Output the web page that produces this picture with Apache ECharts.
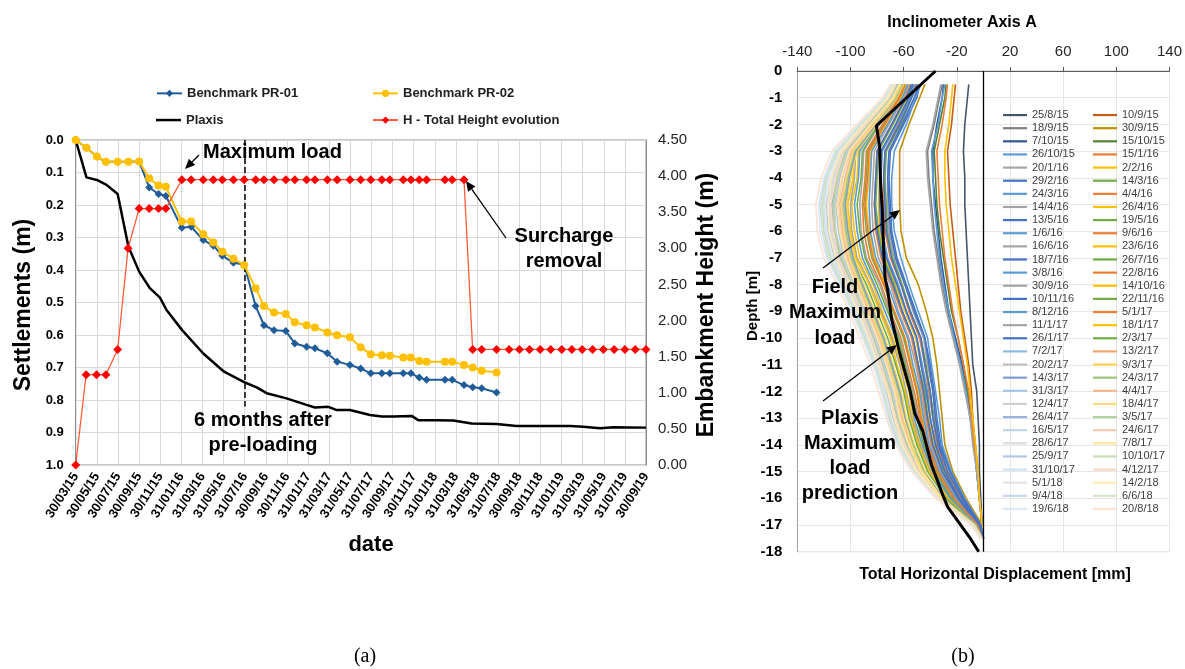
<!DOCTYPE html>
<html><head><meta charset="utf-8">
<script src="https://cdn.jsdelivr.net/npm/echarts@6.0.0/dist/echarts.min.js"></script>
<style>html,body{margin:0;padding:0;background:#fff}#c{width:1185px;height:669px}</style>
</head><body><div id="c"></div>
<script>
// ---------- Panel (a) data ----------
const dateTickLabels = ['30/03/15','30/05/15','30/07/15','30/09/15','30/11/15','31/01/16','31/03/16','31/05/16','31/07/16','30/09/16','30/11/16','31/01/17','31/03/17','31/05/17','31/07/17','30/09/17','30/11/17','31/01/18','31/03/18','31/05/18','31/07/18','30/09/18','30/11/18','31/01/19','31/03/19','31/05/19','31/07/19','30/09/19'];
const axisStart = '2015-03-30';
const axisEnd = '2019-09-30';
const sixMonthsDate = '2016-07-31';

const benchDates = ['2015-03-30','2015-04-30','2015-05-30','2015-06-25','2015-07-29','2015-08-29','2015-09-29','2015-10-28','2015-11-24','2015-12-15',
 '2016-01-30','2016-02-26','2016-04-01','2016-04-30','2016-05-26','2016-06-27','2016-07-28','2016-08-30','2016-09-23','2016-10-22','2016-11-25','2016-12-21',
 '2017-01-24','2017-02-17','2017-03-25','2017-04-22','2017-05-29','2017-06-29','2017-07-28','2017-08-29','2017-09-21','2017-10-30','2017-11-21','2017-12-15',
 '2018-01-05','2018-02-27','2018-03-20','2018-04-23','2018-05-18','2018-06-13','2018-07-26'];
const pr01 = [0,0.024,0.051,0.067,0.067,0.067,0.066,0.146,0.166,0.172,
 0.270,0.267,0.308,0.325,0.356,0.378,0.383,0.511,0.570,0.585,0.588,0.626,
 0.636,0.641,0.656,0.682,0.692,0.703,0.718,0.718,0.718,0.718,0.718,0.731,
 0.738,0.738,0.738,0.754,0.761,0.764,0.777];
const pr02 = [0,0.024,0.051,0.067,0.067,0.067,0.066,0.118,0.140,0.144,
 0.251,0.251,0.290,0.315,0.344,0.365,0.385,0.456,0.511,0.531,0.535,0.561,
 0.570,0.577,0.592,0.601,0.607,0.638,0.659,0.662,0.664,0.669,0.669,0.680,
 0.682,0.682,0.682,0.692,0.700,0.710,0.715];

const hDates = ['2015-03-30','2015-04-29','2015-05-29','2015-06-25','2015-07-29','2015-08-28','2015-09-29','2015-10-28','2015-11-24','2015-12-15',
 '2016-01-30','2016-02-26','2016-04-01','2016-04-30','2016-05-26','2016-06-27','2016-07-28','2016-08-30','2016-09-23','2016-10-22','2016-11-25','2016-12-21',
 '2017-01-24','2017-02-17','2017-03-25','2017-04-22','2017-05-29','2017-06-29','2017-07-28','2017-08-29','2017-09-21','2017-10-30','2017-11-21','2017-12-15',
 '2018-01-05','2018-02-27','2018-03-20','2018-04-23',
 '2018-05-18','2018-06-13','2018-07-26','2018-08-31','2018-09-30','2018-10-29','2018-11-29','2018-12-29',
 '2019-01-30','2019-02-28','2019-03-30','2019-04-29','2019-05-30','2019-06-30','2019-07-31','2019-08-30','2019-09-30'];
const hValues = [0,1.25,1.25,1.25,1.6,3.0,3.55,3.55,3.55,3.55,
 3.95,3.95,3.95,3.95,3.95,3.95,3.95,3.95,3.95,3.95,3.95,3.95,
 3.95,3.95,3.95,3.95,3.95,3.95,3.95,3.95,3.95,3.95,3.95,3.95,
 3.95,3.95,3.95,3.95,
 1.6,1.6,1.6,1.6,1.6,1.6,1.6,1.6,
 1.6,1.6,1.6,1.6,1.6,1.6,1.6,1.6,1.6];

const plaxisDates = ['2015-03-30','2015-04-30','2015-05-30','2015-06-27','2015-07-29','2015-08-29','2015-09-29','2015-10-30','2015-11-28','2015-12-17',
 '2016-01-31','2016-04-01','2016-05-31','2016-08-01','2016-09-02','2016-10-01','2016-11-27',
 '2017-01-24','2017-02-17','2017-03-28','2017-04-21','2017-05-29','2017-07-26','2017-08-29','2017-10-01','2017-11-23','2017-12-12',
 '2018-02-03','2018-03-23','2018-05-15','2018-07-26','2018-09-22',
 '2019-02-23','2019-04-02','2019-05-20','2019-06-28','2019-09-30'];
const plaxisSettle = [0,0.115,0.123,0.138,0.166,0.328,0.405,0.456,0.485,0.523,
 0.585,0.657,0.713,0.747,0.761,0.779,0.795,
 0.815,0.823,0.821,0.831,0.831,0.846,0.851,0.851,0.849,0.862,
 0.862,0.863,0.872,0.874,0.880,
 0.880,0.882,0.887,0.884,0.885];

// ---------- Panel (b) data ----------
const inclDepths = [-0.5,-1,-2,-3,-4,-5,-6,-7,-8,-9,-10,-11,-12,-13,-14,-15,-16,-17,-17.5];
const inclDates = ['25/8/15','10/9/15','18/9/15','30/9/15','7/10/15','15/10/15','26/10/15','15/1/16','20/1/16','2/2/16',
 '29/2/16','14/3/16','24/3/16','4/4/16','14/4/16','26/4/16','13/5/16','19/5/16','1/6/16','9/6/16',
 '16/6/16','23/6/16','18/7/16','26/7/16','3/8/16','22/8/16','30/9/16','14/10/16','10/11/16','22/11/16',
 '8/12/16','5/1/17','11/1/17','18/1/17','26/1/17','2/3/17','7/2/17','13/2/17','20/2/17','9/3/17',
 '14/3/17','24/3/17','31/3/17','4/4/17','12/4/17','18/4/17','26/4/17','3/5/17','16/5/17','24/6/17',
 '28/6/17','7/8/17','25/9/17','10/10/17','31/10/17','4/12/17','5/1/18','14/2/18','9/4/18','6/6/18',
 '19/6/18','20/8/18'];
const inclProfiles = [
 [-11,-12,-14,-15,-14,-14,-13,-12,-11,-10,-9,-8,-5,-4,-3,-3,-2,-1,0],
 [-21,-22,-24,-27,-26,-25,-23,-21,-19,-17,-14,-11,-9,-8,-6,-4,-3,-1,0],
 [-31,-33,-37,-42,-41,-39,-37,-34,-31,-27,-22,-17,-13,-10,-7,-5,-3,-1,0],
 [-44,-48,-56,-63,-63,-63,-62,-58,-49,-43,-38,-35,-33,-31,-29,-23,-13,-1,0],
 [-30,-31,-35,-38,-38,-36,-34,-32,-29,-26,-21,-16,-12,-9,-7,-5,-3,-1,0],
 [-28,-29,-33,-37,-36,-35,-33,-30,-27,-24,-19,-15,-12,-9,-7,-4,-3,-1,0],
 [-29,-31,-34,-39,-38,-37,-35,-33,-30,-26,-22,-17,-13,-10,-7,-5,-3,-1,0],
 [-27,-28,-31,-35,-34,-33,-31,-29,-26,-23,-19,-15,-11,-9,-7,-4,-3,-1,0],
 [-32,-34,-38,-43,-42,-40,-38,-35,-32,-28,-23,-18,-14,-10,-8,-5,-3,-1,0],
 [-23,-24,-26,-29,-29,-28,-26,-24,-21,-18,-15,-12,-10,-8,-6,-4,-3,-1,0],
 [-48,-50,-60,-70,-71,-70,-69,-65,-58,-51,-44,-40,-37,-35,-32,-25,-15,-2,0],
 [-50,-54,-62,-73,-74,-73,-72,-68,-61,-55,-47,-43,-40,-37,-34,-27,-16,-3,0],
 [-47,-51,-58,-67,-69,-69,-67,-62,-56,-49,-42,-39,-36,-33,-31,-24,-14,-2,0],
 [-51,-55,-64,-74,-75,-75,-74,-70,-62,-56,-48,-44,-41,-38,-35,-28,-17,-3,0],
 [-49,-52,-61,-71,-72,-72,-71,-67,-59,-53,-45,-42,-38,-36,-33,-26,-15,-2,0],
 [-53,-57,-66,-77,-78,-79,-78,-74,-66,-59,-51,-47,-43,-41,-37,-29,-18,-3,0],
 [-48,-52,-61,-71,-72,-71,-70,-66,-59,-52,-44,-41,-38,-36,-33,-25,-15,-2,0],
 [-54,-58,-68,-79,-80,-81,-79,-75,-67,-61,-53,-49,-44,-42,-38,-30,-19,-3,0],
 [-52,-55,-65,-76,-77,-77,-76,-72,-64,-58,-50,-46,-42,-40,-36,-29,-18,-3,0],
 [-55,-59,-69,-80,-81,-82,-81,-77,-69,-62,-54,-50,-46,-43,-39,-31,-20,-4,0],
 [-56,-60,-71,-82,-83,-84,-83,-79,-70,-64,-56,-51,-47,-44,-40,-32,-20,-4,0],
 [-58,-62,-73,-85,-86,-88,-86,-82,-74,-67,-59,-54,-49,-46,-42,-34,-22,-4,-1],
 [-50,-54,-63,-74,-75,-74,-73,-69,-62,-55,-47,-44,-40,-38,-34,-27,-16,-3,0],
 [-59,-63,-75,-87,-88,-90,-88,-84,-75,-68,-60,-55,-50,-47,-42,-35,-22,-4,-1],
 [-57,-61,-72,-84,-85,-86,-85,-81,-72,-65,-57,-53,-48,-45,-41,-33,-21,-4,-1],
 [-60,-64,-76,-88,-89,-91,-90,-86,-77,-70,-62,-57,-52,-48,-43,-36,-23,-5,-1],
 [-61,-65,-78,-90,-91,-93,-92,-88,-78,-71,-63,-58,-53,-49,-44,-37,-24,-5,-1],
 [-65,-69,-82,-94,-95,-99,-97,-93,-83,-76,-68,-62,-56,-53,-47,-39,-26,-5,-1],
 [-54,-58,-69,-80,-81,-82,-80,-76,-68,-61,-53,-49,-45,-42,-38,-31,-19,-4,0],
 [-62,-66,-79,-91,-92,-95,-93,-89,-80,-72,-64,-59,-54,-50,-45,-37,-24,-5,-1],
 [-64,-68,-80,-93,-94,-97,-95,-91,-82,-74,-66,-61,-55,-52,-46,-38,-25,-5,-1],
 [-59,-63,-74,-86,-87,-89,-87,-83,-75,-67,-59,-55,-50,-47,-42,-34,-22,-4,-1],
 [-66,-70,-83,-96,-97,-100,-99,-95,-85,-77,-69,-63,-58,-54,-48,-40,-27,-6,-1],
 [-67,-71,-85,-97,-98,-102,-100,-96,-86,-78,-70,-65,-59,-55,-49,-41,-27,-6,-1],
 [-53,-56,-66,-77,-78,-78,-77,-73,-65,-58,-50,-47,-43,-40,-36,-29,-18,-3,0],
 [-68,-72,-86,-99,-100,-104,-102,-98,-88,-80,-72,-66,-60,-56,-50,-42,-28,-6,-1],
 [-62,-67,-83,-98,-104,-107,-105,-101,-94,-85,-77,-71,-65,-61,-55,-46,-31,-7,-1],
 [-61,-66,-81,-97,-102,-105,-103,-99,-92,-84,-76,-69,-63,-59,-53,-45,-31,-6,-1],
 [-61,-66,-82,-97,-103,-106,-104,-100,-92,-84,-76,-70,-64,-60,-54,-45,-31,-6,-1],
 [-60,-65,-80,-95,-100,-103,-101,-97,-90,-82,-74,-68,-62,-58,-52,-44,-30,-6,-1],
 [-61,-66,-81,-96,-101,-104,-102,-98,-91,-83,-75,-69,-63,-59,-53,-45,-30,-6,-1],
 [-61,-66,-82,-97,-102,-105,-103,-99,-92,-84,-76,-70,-64,-60,-53,-45,-31,-6,-1],
 [-64,-69,-85,-102,-108,-111,-109,-105,-97,-89,-81,-74,-68,-63,-57,-48,-32,-7,-1],
 [-62,-67,-83,-99,-104,-108,-106,-102,-94,-86,-78,-71,-65,-61,-55,-46,-31,-7,-1],
 [-64,-69,-86,-103,-109,-112,-111,-106,-98,-90,-82,-75,-69,-64,-58,-48,-32,-7,-1],
 [-62,-67,-82,-98,-103,-107,-105,-101,-93,-85,-77,-71,-65,-60,-54,-46,-31,-7,-1],
 [-65,-70,-87,-104,-111,-114,-113,-108,-100,-91,-83,-76,-70,-65,-59,-49,-33,-7,-1],
 [-65,-70,-87,-104,-110,-113,-112,-107,-99,-91,-83,-76,-70,-65,-58,-49,-33,-7,-1],
 [-66,-72,-89,-106,-113,-117,-115,-111,-102,-93,-85,-78,-72,-67,-60,-50,-34,-8,-2],
 [-63,-68,-84,-100,-106,-109,-107,-103,-95,-87,-79,-72,-66,-62,-56,-47,-32,-7,-1],
 [-66,-71,-88,-106,-112,-116,-114,-110,-101,-92,-84,-77,-71,-66,-60,-50,-33,-8,-2],
 [-63,-68,-85,-101,-107,-110,-108,-104,-96,-88,-80,-73,-67,-63,-56,-47,-32,-7,-1],
 [-67,-72,-90,-107,-114,-118,-117,-112,-103,-94,-86,-79,-73,-68,-61,-51,-34,-8,-2],
 [-68,-74,-92,-110,-117,-121,-120,-115,-106,-97,-89,-81,-75,-70,-63,-52,-35,-8,-2],
 [-68,-73,-91,-109,-117,-120,-119,-114,-105,-96,-88,-81,-75,-69,-63,-52,-35,-8,-2],
 [-66,-71,-88,-105,-111,-115,-113,-109,-100,-92,-84,-77,-71,-66,-59,-49,-33,-8,-2],
 [-67,-73,-91,-108,-115,-119,-118,-113,-104,-95,-87,-80,-74,-69,-62,-51,-34,-8,-2],
 [-67,-72,-90,-107,-114,-117,-116,-111,-103,-94,-86,-79,-72,-67,-61,-50,-34,-8,-2],
 [-69,-74,-93,-111,-119,-123,-121,-117,-107,-98,-90,-82,-76,-71,-64,-52,-35,-9,-2],
 [-68,-74,-92,-111,-118,-122,-121,-116,-106,-98,-90,-82,-76,-70,-63,-52,-35,-8,-2],
 [-69,-75,-94,-112,-120,-124,-123,-118,-108,-99,-91,-83,-77,-72,-65,-53,-35,-9,-2],
 [-70,-76,-95,-114,-122,-126,-125,-120,-110,-101,-93,-85,-79,-73,-66,-54,-36,-9,-2]
];
const plaxisDispl = [-36,-80.5,-78,-77.5,-76,-75,-74,-72,-69,-63,-55.5,-51.7,-45.5,-39,-30,-26.8,-10.5,-3.5];
const plaxisDepth = [0,-2.05,-2.85,-4,-5.25,-6.75,-7.75,-8.2,-9.3,-10.55,-11.9,-12.8,-13.5,-14.75,-15.95,-16.33,-17.45,-18];

// ---------- styling ----------
const FF = '"Liberation Sans", Arial, sans-serif';
const famBase = ['#5B9BD5','#ED7D31','#A5A5A5','#FFC000','#4472C4','#70AD47'];
const famDark = ['#44546A','#C55A11','#7F7F7F','#BF9000','#2F5597','#548235'];
const cycleLight = [0,0,0,0,0,0,0.3,0.45,0.6,0.7,0.78];
function mix(hex,t){const n=parseInt(hex.slice(1),16);let r=n>>16,g=(n>>8)&255,b=n&255;
 r=Math.round(r+(255-r)*t);g=Math.round(g+(255-g)*t);b=Math.round(b+(255-b)*t);return 'rgb('+r+','+g+','+b+')';}
function inclColor(k){const c=Math.floor(k/6),f=k%6;return c===0?famDark[f]:mix(famBase[f],cycleLight[c]);}
function toTime(s){const p=s.split('-');return +new Date(+p[0],+p[1]-1,+p[2]);}

function txt(x,y,text,font,rot,align){return {type:'text',x:x,y:y,rotation:rot||0,z:50,
 style:{text:text,font:font,fill:'#000',align:align||'center',verticalAlign:'middle'}};}
function arrow(x1,y1,x2,y2,w){const a=Math.atan2(y2-y1,x2-x1),L=10,W=4.5;
 const bx=x2-L*Math.cos(a),by=y2-L*Math.sin(a);
 return [{type:'line',z:50,shape:{x1:x1,y1:y1,x2:bx,y2:by},style:{stroke:'#000',lineWidth:w}},
 {type:'polygon',z:50,shape:{points:[[x2,y2],[bx+W*Math.sin(a),by-W*Math.cos(a)],[bx-W*Math.sin(a),by+W*Math.cos(a)]]},style:{fill:'#000'}}];}

const bold20 = 'bold 20px '+FF;
const graphics = [].concat(
 [txt(203,152,'Maximum load',bold20,0,'left')],
 arrow(199,155,185,169,1.3),
 [txt(263,420,'6 months after',bold20),txt(263,445,'pre-loading',bold20)],
 [txt(564,236,'Surcharge',bold20),txt(564,261,'removal',bold20)],
 arrow(506,238,466,181,1.3),
 [txt(24,305,'Settlements (m)','bold 23px '+FF,Math.PI/2)],
 [txt(707,305,'Embankment Height (m)','bold 23px '+FF,Math.PI/2)],
 [txt(371,545,'date','bold 22px '+FF)],
 [txt(365,657,'(a)','20px "Liberation Serif", serif'),txt(963,657,'(b)','20px "Liberation Serif", serif')],
 [txt(962,23,'Inclinometer Axis A','bold 16px '+FF)],
 [txt(753,306,'Depth [m]','bold 15px '+FF,Math.PI/2)],
 [txt(995,575,'Total Horizontal Displacement [mm]','bold 16px '+FF)],
 [txt(835,287,'Field',bold20),txt(835,312,'Maximum',bold20),txt(835,338,'load',bold20)],
 arrow(823,268,900,210,1.3),
 [txt(850,418,'Plaxis',bold20),txt(850,443,'Maximum',bold20),txt(850,468,'load',bold20),txt(850,493,'prediction',bold20)],
 arrow(823,401,897,345,1.3)
);

const inclSeries = inclDates.map((name,k)=>({
 type:'line',name:name,xAxisIndex:1,yAxisIndex:2,symbol:'none',silent:true,z:2,
 data:inclDepths.map((d,i)=>[inclProfiles[k][i],d]),
 lineStyle:{width:1.6,color:inclColor(k)},itemStyle:{color:inclColor(k)}
}));

const legA = {fontSize:13,fontWeight:'bold',color:'#222',lineHeight:16.7,fontFamily:FF};
const legB = {fontSize:11,color:'#404040',lineHeight:13.13,fontFamily:FF};
const option = {
 animation:false,
 textStyle:{fontFamily:FF},
 grid:[
  {left:75.7,top:140,width:570.3,height:325,show:true,borderColor:'#8C8C8C',borderWidth:1},
  {left:797.3,top:71,width:373.4,height:480.7,show:true,borderColor:'#C8C8C8',borderWidth:1}
 ],
 xAxis:[
  {type:'time',gridIndex:0,position:'top',min:toTime(axisStart),max:toTime(axisEnd),show:false},
  {type:'value',gridIndex:1,position:'top',min:-140,max:140,interval:40,
   axisLine:{show:true,onZero:false,lineStyle:{color:'#595959'}},
   axisTick:{show:true,length:4,lineStyle:{color:'#595959'}},
   axisLabel:{fontSize:15,color:'#262626',margin:12,fontFamily:FF},
   splitLine:{show:true,lineStyle:{color:'#E6E6E6'}}},
  {type:'category',gridIndex:0,position:'bottom',data:dateTickLabels,boundaryGap:false,
   axisLine:{show:false},axisTick:{show:false},
   axisLabel:{interval:0,rotate:58,fontWeight:'bold',fontSize:13,color:'#000',margin:9,fontFamily:FF},
   splitLine:{show:true,lineStyle:{color:'#D9D9D9'}}}
 ],
 yAxis:[
  {type:'value',gridIndex:0,position:'left',inverse:true,min:0,max:1,interval:0.1,
   axisLine:{show:true,lineStyle:{color:'#8C8C8C'}},axisTick:{show:false},
   axisLabel:{formatter:v=>v.toFixed(1),fontWeight:'bold',fontSize:13,color:'#000',margin:12,fontFamily:FF},
   splitLine:{show:true,lineStyle:{color:'#D9D9D9'}}},
  {type:'value',gridIndex:0,position:'right',min:0,max:4.5,interval:0.5,
   axisLine:{show:true,lineStyle:{color:'#8C8C8C'}},axisTick:{show:false},
   axisLabel:{formatter:v=>v.toFixed(2),fontSize:15,color:'#262626',margin:12,fontFamily:FF},
   splitLine:{show:false}},
  {type:'value',gridIndex:1,position:'left',min:-18,max:0,interval:1,
   axisLine:{show:true,onZero:false,lineStyle:{color:'#A6A6A6'}},axisTick:{show:false},
   axisLabel:{fontWeight:'bold',fontSize:15,color:'#000',margin:15,fontFamily:FF},
   splitLine:{show:true,lineStyle:{color:'#E6E6E6'}}}
 ],
 legend:[
  {orient:'vertical',left:156,top:85,itemWidth:25,itemHeight:9,selectedMode:false,padding:0,
   data:['Benchmark PR-01'],textStyle:legA},
  {orient:'vertical',left:156,top:111.7,itemWidth:25,itemHeight:2.5,icon:'rect',selectedMode:false,padding:0,
   data:['Plaxis'],textStyle:legA},
  {orient:'vertical',left:372,top:85,itemWidth:25,itemHeight:9,itemGap:10,selectedMode:false,padding:0,
   data:['Benchmark PR-02','H - Total Height evolution'],textStyle:legA},
  {orient:'vertical',left:1003,top:108.5,itemWidth:24,itemHeight:2.2,icon:'rect',itemGap:0,selectedMode:false,padding:0,
   data:inclDates.filter((_,k)=>k%2===0),textStyle:legB},
  {orient:'vertical',left:1093,top:108.5,itemWidth:24,itemHeight:2.2,icon:'rect',itemGap:0,selectedMode:false,padding:0,
   data:inclDates.filter((_,k)=>k%2===1),textStyle:legB}
 ],
 graphic:graphics,
 series:[
  {type:'line',name:'Plaxis',xAxisIndex:0,yAxisIndex:0,symbol:'none',z:3,
   data:plaxisDates.map((d,i)=>[toTime(d),plaxisSettle[i]]),
   lineStyle:{color:'#000',width:2.5},itemStyle:{color:'#000'},
   markLine:{silent:true,symbol:'none',label:{show:false},lineStyle:{type:'dashed',color:'#000',width:1.5},
    data:[[{coord:[toTime(sixMonthsDate),0]},{coord:[toTime(sixMonthsDate),0.82]}]]}},
  {type:'line',name:'Benchmark PR-01',xAxisIndex:0,yAxisIndex:0,symbol:'diamond',symbolSize:8,z:4,
   data:benchDates.map((d,i)=>[toTime(d),pr01[i]]),
   lineStyle:{color:'#1F5C99',width:2},itemStyle:{color:'#1F5C99'}},
  {type:'line',name:'Benchmark PR-02',xAxisIndex:0,yAxisIndex:0,symbol:'circle',symbolSize:8,z:5,
   data:benchDates.map((d,i)=>[toTime(d),pr02[i]]),
   lineStyle:{color:'#FFC000',width:2},itemStyle:{color:'#FFC000'}},
  {type:'line',name:'H - Total Height evolution',xAxisIndex:0,yAxisIndex:1,symbol:'diamond',symbolSize:9,z:6,
   data:hDates.map((d,i)=>[toTime(d),hValues[i]]),
   lineStyle:{color:'#FF5A36',width:1.3},itemStyle:{color:'#FF0000'}}
 ].concat(inclSeries).concat([
  {type:'line',name:'Plaxis B',xAxisIndex:1,yAxisIndex:2,symbol:'none',z:8,silent:true,
   data:plaxisDepth.map((d,i)=>[plaxisDispl[i],d]),
   lineStyle:{color:'#000',width:3},itemStyle:{color:'#000'},
   markLine:{silent:true,symbol:'none',label:{show:false},lineStyle:{type:'solid',color:'#000',width:1.3},
    data:[{xAxis:0}]}}
 ])
};
const chart = echarts.init(document.getElementById('c'),null,{renderer:'canvas'});
chart.setOption(option);
</script></body></html>
